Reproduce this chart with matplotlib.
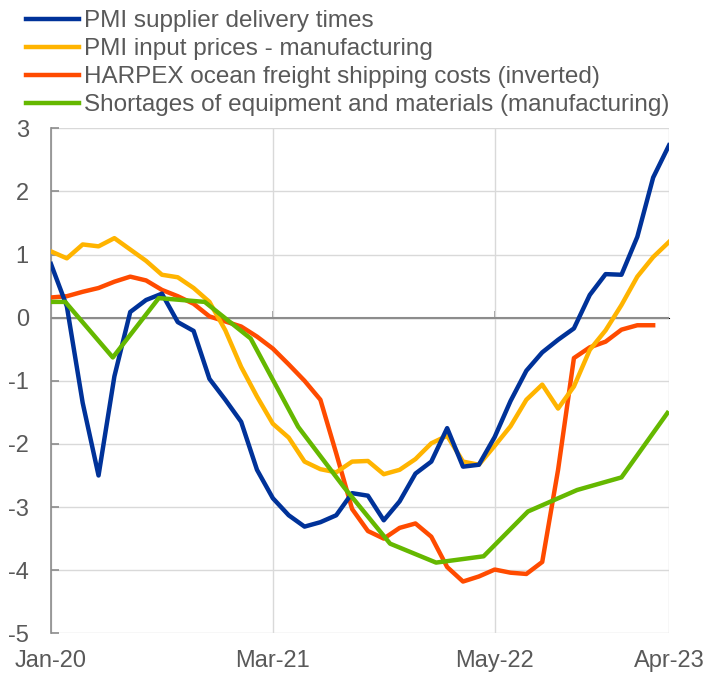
import numpy as np
import matplotlib
matplotlib.use("Agg")
import matplotlib.pyplot as plt

plt.rcParams['font.family'] = ['Liberation Sans', 'DejaVu Sans']
plt.rcParams['axes.unicode_minus'] = False

# months since Jan-20 (0 = Jan-20, 39 = Apr-23)
months = np.arange(40)
tick_pos = [0, 14, 28, 39]
tick_labels = ["Jan-20", "Mar-21", "May-22", "Apr-23"]

delivery = [0.85, 0.18, -1.35, -2.5, -0.93, 0.09, 0.28, 0.38, -0.07, -0.21,
            -0.97, -1.3, -1.65, -2.41, -2.86, -3.13, -3.31, -3.24, -3.13, -2.78,
            -2.82, -3.21, -2.91, -2.47, -2.28, -1.75, -2.36, -2.33, -1.89, -1.32,
            -0.84, -0.55, -0.35, -0.17, 0.36, 0.69, 0.68, 1.28, 2.22, 2.73]
input_prices = [1.05, 0.94, 1.16, 1.13, 1.26, 1.08, 0.9, 0.68, 0.64, 0.47,
                0.25, -0.2, -0.78, -1.25, -1.68, -1.9, -2.28, -2.4, -2.45, -2.28,
                -2.27, -2.48, -2.41, -2.24, -1.99, -1.87, -2.28, -2.33, -2.03, -1.72,
                -1.3, -1.06, -1.44, -1.09, -0.51, -0.2, 0.2, 0.65, 0.96, 1.2]
harpex = [0.32, 0.34, 0.41, 0.47, 0.57, 0.65, 0.59, 0.44, 0.34, 0.22,
          0.02, -0.06, -0.14, -0.3, -0.49, -0.74, -1.0, -1.3, -2.15, -3.03,
          -3.38, -3.5, -3.33, -3.26, -3.47, -3.95, -4.18, -4.1, -3.99, -4.04,
          -4.06, -3.87, -2.41, -0.64, -0.47, -0.38, -0.19, -0.12, -0.12, np.nan]
shortage_months = [0, 0.9, 3.9, 6.8, 9.7, 12.6, 15.6, 18.5, 21.4, 24.3,
                   27.3, 30.1, 33.2, 36.0, 38.9]
shortages = [0.25, 0.25, -0.63, 0.31, 0.25, -0.33, -1.73, -2.69, -3.58, -3.88,
             -3.78, -3.07, -2.73, -2.53, -1.51]

BLUE = "#003299"
YELLOW = "#FFB400"
ORANGE = "#FF4B00"
GREEN = "#65B800"
TXT = "#595959"
GRID = "#D9D9D9"
AXIS = "#8C8C8C"

fig = plt.figure(figsize=(7.03, 6.73), dpi=100)
ax = fig.add_axes([51 / 703, 1 - 633.3 / 673, 618 / 703, 505 / 673])

ax.plot(months, delivery, color=BLUE, lw=3.2, label="PMI supplier delivery times", zorder=5)
ax.plot(months, input_prices, color=YELLOW, lw=3.2, label="PMI input prices - manufacturing", zorder=4)
ax.plot(months, harpex, color=ORANGE, lw=3.2, label="HARPEX ocean freight shipping costs (inverted)", zorder=3)
ax.plot(shortage_months, shortages, color=GREEN, lw=3.2,
        label="Shortages of equipment and materials (manufacturing)", zorder=6)

ax.set_xlim(0, 39)
ax.set_ylim(-5, 3)
ax.set_yticks(range(-5, 4))
ax.set_xticks(tick_pos)
ax.set_xticklabels(tick_labels)
ax.grid(True, color=GRID, lw=1)
ax.set_axisbelow(True)

for s in ['top', 'right', 'bottom']:
    ax.spines[s].set_visible(False)
ax.spines['left'].set_color(AXIS)
ax.spines['left'].set_linewidth(1.2)
ax.axhline(0, color=AXIS, lw=1.5, zorder=2)

ax.tick_params(axis='y', direction='in', colors=AXIS, labelcolor=TXT, labelsize=17,
               length=6, width=1.2, pad=16)
ax.tick_params(axis='x', length=0, labelcolor=TXT, labelsize=17, pad=12)

# small tick marks on the zero line
sec = ax.secondary_xaxis(5 / 8)
sec.set_xticks([14, 28])
sec.set_xticklabels([])
sec.tick_params(length=5, width=1.2, colors=AXIS, direction='out')
sec.spines['bottom'].set_visible(False)

fig.legend(loc='upper left', bbox_to_anchor=(26 / 703, 1 - 10 / 673), frameon=False,
           fontsize=17.5, labelcolor=TXT, handlelength=2.2, handletextpad=0.2,
           labelspacing=0.25, borderaxespad=0, borderpad=0)

fig.savefig("out.png", dpi=100)
